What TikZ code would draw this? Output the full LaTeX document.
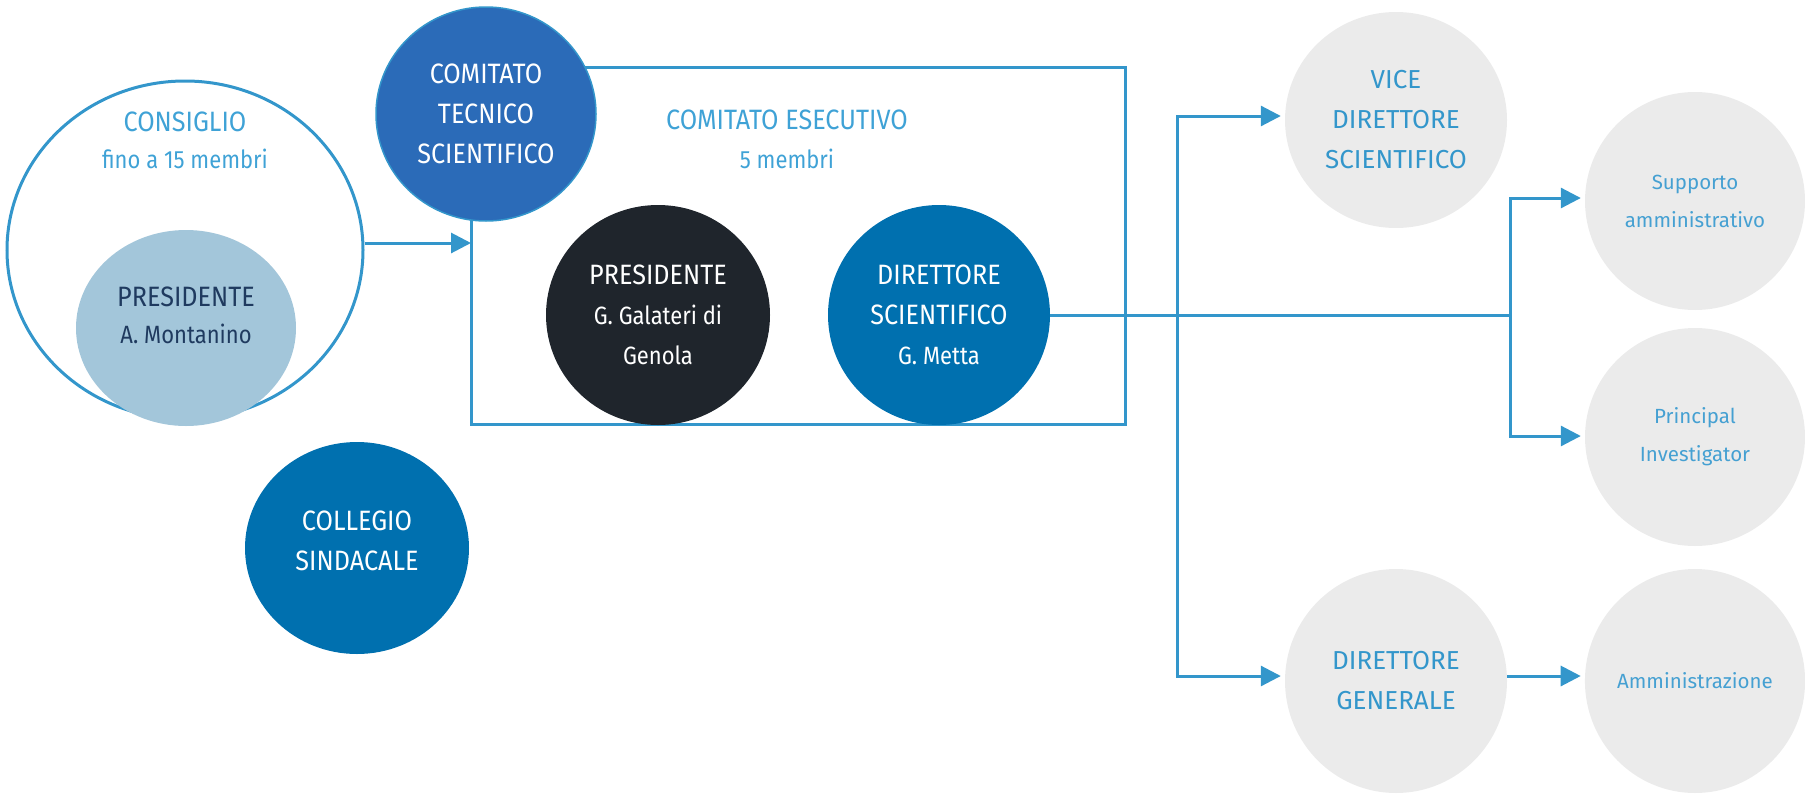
\documentclass[tikz,border=0pt]{standalone}
\usepackage{fontspec}
\setmainfont{Fira Sans}[FakeStretch=0.9]
\newfontfamily\namefont{Fira Sans}[FakeStretch=0.88]
\newfontfamily\widefont{Fira Sans}
\usetikzlibrary{arrows.meta,shapes.geometric}
\definecolor{lineblue}{HTML}{3396CB}
\definecolor{txtblue}{HTML}{3FA2D6}
\definecolor{greytxt}{HTML}{45A0D2}
\definecolor{ctsblue}{HTML}{2B6BB8}
\definecolor{dsblue}{HTML}{0070AF}
\definecolor{lightpres}{HTML}{A3C6DA}
\definecolor{navytxt}{HTML}{1F3A5F}
\definecolor{darkpres}{HTML}{1F252C}
\definecolor{greyfill}{HTML}{EBEBEB}
\newcommand{\nm}{\namefont\fontsize{25}{40}\selectfont}
\tikzset{
  x=1pt, y=-1pt,
  bubble/.style={ellipse, inner sep=0pt, align=center, font=\fontsize{28}{40}\selectfont},
  greybubble/.style={bubble, fill=greyfill, text=lineblue, font=\widefont\fontsize{26}{40}\selectfont},
  smalltxt/.style={text=greytxt, font=\widefont\fontsize{20.5}{38}\selectfont},
  conn/.style={draw=lineblue, line width=3pt},
  arr/.style={conn, -{Triangle[length=20pt,width=20pt]}},
  lbl/.style={inner sep=0pt, align=center, font=\fontsize{28}{40}\selectfont},
}
\begin{document}
\begin{tikzpicture}
\useasboundingbox (0,0) rectangle (1805,793);
% Comitato esecutivo frame
\draw[conn] (471,67) rectangle (1125,424);
% Consiglio
\node[ellipse, draw=lineblue, line width=3pt, minimum width=356pt, minimum height=338pt, inner sep=0pt] (cons) at (185,250) {};
\node[bubble, fill=lightpres, minimum width=220pt, minimum height=196pt] (preslight) at (186,328) {};
\node[lbl, text=txtblue] (consT) at (185,122) {CONSIGLIO};
\node[lbl, text=txtblue, font=\nm] (consN) at (185,159) {fino a 15 membri};
\node[lbl, text=navytxt] (plT) at (186,297) {PRESIDENTE};
\node[lbl, text=navytxt, font=\nm] (plN) at (186,334) {A. Montanino};
% Comitato tecnico scientifico
\node[bubble, fill=ctsblue, draw=lineblue, line width=1.5pt, text=white, minimum width=220pt, minimum height=214pt] (cts) at (486,114) {COMITATO\\TECNICO\\SCIENTIFICO};
% Comitato esecutivo label
\node[lbl, text=txtblue] (ceT) at (787,120) {COMITATO ESECUTIVO};
\node[lbl, text=txtblue, font=\nm] (ceN) at (787,159) {5 membri};
% Presidente / Direttore scientifico
\node[bubble, fill=darkpres, text=white, minimum width=224pt, minimum height=220pt] (pres) at (658,315) {PRESIDENTE\\{\nm G. Galateri di}\\{\nm Genola}};
\node[bubble, fill=dsblue, text=white, minimum width=222pt, minimum height=220pt] (ds) at (939,315) {DIRETTORE\\SCIENTIFICO\\{\nm G. Metta}};
% Collegio sindacale
\node[bubble, fill=dsblue, text=white, minimum width=224pt, minimum height=212pt] (coll) at (357,548) {COLLEGIO\\SINDACALE\\[-26pt]\mbox{}};
% Right side
\node[greybubble, minimum width=222pt, minimum height=216pt] (vds) at (1396,120) {VICE\\DIRETTORE\\SCIENTIFICO};
\node[greybubble, smalltxt, minimum width=220pt, minimum height=218pt] (sup) at (1695,201) {Supporto\\amministrativo};
\node[greybubble, smalltxt, minimum width=220pt, minimum height=218pt] (pi) at (1695,437) {Principal\\Investigator};
\node[greybubble, minimum width=222pt, minimum height=224pt] (dg) at (1396,681) {DIRETTORE\\GENERALE};
\node[greybubble, smalltxt, minimum width=220pt, minimum height=224pt] (amm) at (1695,681) {Amministrazione};
% connectors
\coordinate (exL) at (471,243);
\draw[arr] (cons.east |- exL) -- (exL);
\coordinate (jR) at (1510,315);
\coordinate (vt) at (1177,116);
\coordinate (vb) at (1177,676);
\coordinate (rt) at (1510,198);
\coordinate (rb) at (1510,436);
\draw[conn] (ds.east) -- (jR);
\draw[arr] (vb) -- (vt) -- ([xshift=-4pt]vds.west |- vt);
\draw[arr] (vt) -- (vb) -- ([xshift=-4pt]dg.west |- vb);
\draw[arr] (rb) -- (rt) -- ([xshift=-4pt]sup.west |- rt);
\draw[arr] (rt) -- (rb) -- ([xshift=-4pt]pi.west |- rb);
\draw[arr] (dg.east |- vb) -- ([xshift=-4pt]amm.west |- vb);
\end{tikzpicture}
\end{document}
